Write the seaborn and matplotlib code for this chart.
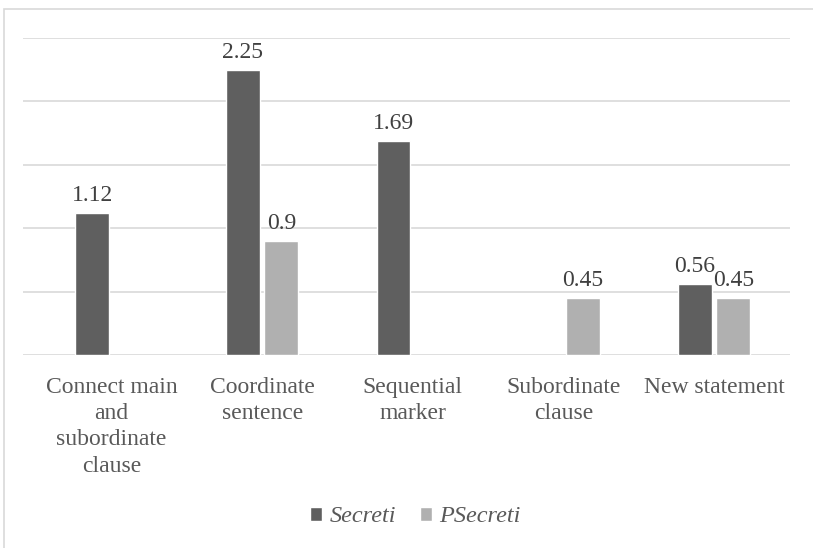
import pandas as pd
import matplotlib.pyplot as plt
import seaborn as sns
from matplotlib.patches import Rectangle

# Data
categories = ["Connect main\nand\nsubordinate\nclause", "Coordinate\nsentence",
              "Sequential\nmarker", "Subordinate\nclause", "New statement"]
secreti = [1.12, 2.25, 1.69, None, 0.56]
psecreti = [None, 0.9, None, 0.45, 0.45]
series = ["Secreti", "PSecreti"]

rows = []
for cat, a, b in zip(categories, secreti, psecreti):
    if a is not None:
        rows.append((cat, "Secreti", a))
    if b is not None:
        rows.append((cat, "PSecreti", b))
df = pd.DataFrame(rows, columns=["Category", "Series", "Value"])

sns.set_theme(style="white")
plt.rcParams['font.family'] = 'serif'
plt.rcParams['font.serif'] = ['Liberation Serif', 'DejaVu Serif']
text_col = "#595959"

fig = plt.figure(figsize=(8.13, 5.48), dpi=100)
ax = fig.add_axes([23 / 813, 1 - 355 / 548, (790 - 23) / 813, (355 - 38) / 548])

sns.barplot(data=df, x="Category", y="Value", hue="Series", order=categories,
            hue_order=series, palette=["#5f5f5f", "#b0b0b0"], width=0.512, gap=0.12,
            saturation=1, ax=ax, legend=True)

for cont in ax.containers:
    ax.bar_label(cont, fmt="%g", padding=5, fontsize=17, color="#404040")

ax.set_ylim(0, 2.5)
ax.set_xlim(-0.588, 4.505)
ax.set_yticks([0, 0.5, 1, 1.5, 2, 2.5])
ax.set_yticklabels([])
ax.tick_params(axis="y", length=0)
ax.tick_params(axis="x", length=0, pad=16, labelsize=17, labelcolor=text_col)
for lab in ax.get_xticklabels():
    lab.set_linespacing(1.32)
    lab.set_verticalalignment("top")
ax.grid(axis="y", color="#d9d9d9", linewidth=1.2)
ax.set_axisbelow(True)
for s in ax.spines.values():
    s.set_visible(False)
ax.set_xlabel("")
ax.set_ylabel("")

ax.legend_.remove()
handles, labels = ax.get_legend_handles_labels()
leg = fig.legend(handles[:2], labels[:2], loc="center", bbox_to_anchor=(0.511, 1 - 517 / 548),
                 ncol=2, frameon=False, handlelength=0.5, handleheight=0.5,
                 handletextpad=0.3, columnspacing=1.0,
                 prop={"family": "serif", "style": "italic", "size": 17.5})
for t in leg.get_texts():
    t.set_color(text_col)

# outer chart frame (partly cropped in the reference)
fig.patches.append(Rectangle((4 / 813, -0.1), 1.2, 1.1 - 9 / 548,
                             transform=fig.transFigure, fill=False,
                             edgecolor="#d9d9d9", linewidth=1.2))

fig.savefig("out.png", dpi=100)
